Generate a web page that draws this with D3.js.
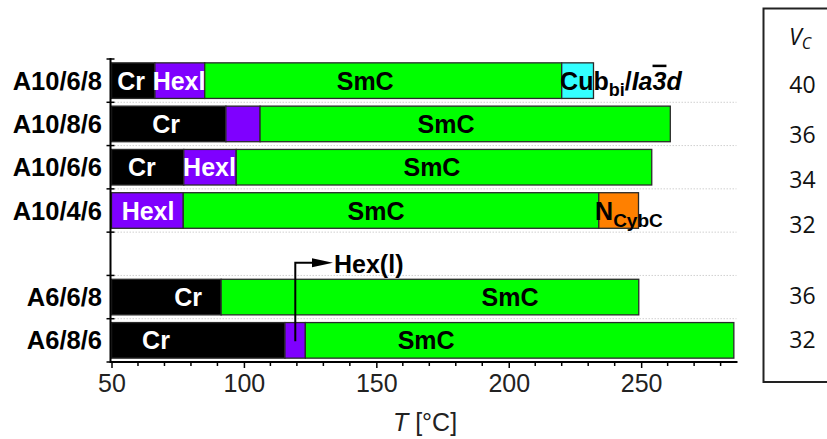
<!DOCTYPE html>
<html>
<head>
<meta charset="utf-8">
<script src="https://cdn.jsdelivr.net/npm/d3@7"></script>
<style>
  html, body { margin: 0; padding: 0; background: #fff; }
  svg { display: block; }
</style>
</head>
<body>
<svg id="chart" width="827" height="439"></svg>
<script>
// ---------------- data ----------------
const categories = ["A10/6/8", "A10/8/6", "A10/6/6", "A10/4/6", "", "A6/6/8", "A6/8/6"];
const phaseSeq = [
  ["Cr", "Hex", "SmC", "Cub"],
  ["Cr", "Hex", "SmC"],
  ["Cr", "Hex", "SmC"],
  ["Hex", "SmC", "N"],
  [],
  ["Cr", "SmC"],
  ["Cr", "Hex", "SmC"]
];
const transitionT = [
  [50, 66.4, 85.2, 220, 232],
  [50, 93.2, 106.1, 261],
  [50, 77.3, 97.1, 254],
  [50, 77.1, 234, 249],
  [],
  [50, 91.4, 249.1],
  [50, 115.5, 123.2, 285]
];
const phaseColors = { Cr: "#000000", Hex: "#7f00ff", SmC: "#00ff00", Cub: "#33ffff", N: "#ff8000" };
// in-bar labels: [row, text, temperature at label centre]
const barLabels = [
  [0, "Cr", 57.4], [0, "Hexl", 75.5], [0, "SmC", 145.8],
  [1, "Cr", 70.6], [1, "SmC", 176.3],
  [2, "Cr", 61.5], [2, "Hexl", 87], [2, "SmC", 171],
  [3, "Hexl", 63.8], [3, "SmC", 149.9],
  [5, "Cr", 78.9], [5, "SmC", 200.5],
  [6, "Cr", 66.8], [6, "SmC", 168.8]
];
const labelColors = { Cr: "#ffffff", Hexl: "#ffffff", SmC: "#000000" };
const cubLabelT = 219.4;   // start of "Cub_bi/Ia-3d"
const nLabelT = 232.6;     // start of "N_CybC"
const hexArrowT = 119.4;   // Hex(l) pointer
const vcValues = ["40", "36", "34", "32", "36", "32"];
const xTicks = [50, 100, 150, 200, 250];
const xMinor = [60, 70, 80, 90, 110, 120, 130, 140, 160, 170, 180, 190, 210, 220, 230, 240, 260, 270, 280];

// ---------------- layout ----------------
const svg = d3.select("#chart");
const x = d3.scaleLinear().domain([50, 286]).range([111.5, 736.5]);
const y = d3.scaleBand().domain(d3.range(categories.length)).range([59, 362]).paddingInner(0.178).paddingOuter(0.089);
const step = y.step();
const bf = "'Liberation Sans', Arial, sans-serif";

// gridlines (dotted)
const gridG = svg.append("g");
d3.range(1, categories.length).forEach(i => {
  const yy = 59 + i * step;
  gridG.append("line").attr("x1", x(50)).attr("x2", x(286)).attr("y1", yy).attr("y2", yy)
    .attr("stroke", "#d0d0d0").attr("stroke-width", 1).attr("stroke-dasharray", "1.5,1.5");
});

// bars
categories.forEach((c, i) => {
  const seq = phaseSeq[i], t = transitionT[i];
  seq.forEach((p, k) => {
    svg.append("rect")
      .attr("x", x(t[k])).attr("y", y(i))
      .attr("width", x(t[k + 1]) - x(t[k])).attr("height", y.bandwidth())
      .attr("fill", phaseColors[p]).attr("stroke", "#2a2a2a").attr("stroke-width", 1.3);
  });
});

// in-bar labels
barLabels.forEach(([r, txt, t]) => {
  svg.append("text").attr("x", x(t)).attr("y", y(r) + y.bandwidth() / 2 + 9)
    .attr("text-anchor", "middle").attr("font-family", bf).attr("font-weight", "bold")
    .attr("font-size", 25).attr("fill", labelColors[txt]).text(txt);
});

// Cub_bi / Ia-3d label
{
  const t = svg.append("text").attr("x", x(cubLabelT)).attr("y", y(0) + y.bandwidth() / 2 + 9)
    .attr("font-family", bf).attr("font-weight", "bold").attr("font-size", 25).attr("fill", "#000");
  t.append("tspan").text("Cub");
  t.append("tspan").attr("font-size", 18).attr("dy", 6).text("bi");
  t.append("tspan").attr("dy", -6).text("/");
  t.append("tspan").attr("font-style", "italic").text("Ia");
  t.append("tspan").attr("font-style", "italic").attr("text-decoration", "overline").text("3");
  t.append("tspan").attr("font-style", "italic").text("d");
}
// N_CybC label
{
  const t = svg.append("text").attr("x", x(nLabelT)).attr("y", y(3) + y.bandwidth() / 2 + 9)
    .attr("font-family", bf).attr("font-weight", "bold").attr("font-size", 25).attr("fill", "#000");
  t.append("tspan").text("N");
  t.append("tspan").attr("font-size", 19).attr("dy", 7).text("CybC");
}

// Hex(l) pointer
{
  const xa = x(hexArrowT);
  const yTop = 262.7, yBot = y(6) + y.bandwidth() / 2 + 1;
  svg.append("path").attr("d", `M${xa},${yBot} V${yTop} H${313}`)
    .attr("fill", "none").attr("stroke", "#000").attr("stroke-width", 2);
  svg.append("path").attr("d", `M312,${yTop - 4.5} L333,${yTop} L312,${yTop + 4.5} Z`).attr("fill", "#000");
  svg.append("text").attr("x", 334).attr("y", 273).attr("font-family", bf).attr("font-weight", "bold")
    .attr("font-size", 25).attr("fill", "#000").text("Hex(l)");
}

// left axis
svg.append("line").attr("x1", 110.5).attr("x2", 110.5).attr("y1", 58).attr("y2", 363)
  .attr("stroke", "#000").attr("stroke-width", 2);
d3.range(categories.length + 1).forEach(i => {
  const yy = 59 + i * step;
  svg.append("line").attr("x1", 106.5).attr("x2", 114.5).attr("y1", yy).attr("y2", yy)
    .attr("stroke", "#000").attr("stroke-width", 1.5);
});
categories.forEach((c, i) => {
  if (!c) return;
  svg.append("text").attr("x", 102).attr("y", y(i) + y.bandwidth() / 2 + 9)
    .attr("text-anchor", "end").attr("font-family", bf).attr("font-weight", "bold")
    .attr("font-size", 25.5).attr("fill", "#000").text(c);
});

// bottom axis
const xAxis = d3.axisBottom(x).tickValues(xTicks).tickSize(6).tickPadding(6).tickSizeOuter(0);
const gx = svg.append("g").attr("transform", "translate(0,362)").call(xAxis);
gx.select(".domain").attr("stroke", "#000").attr("stroke-width", 2).attr("d", `M${x(50) - 1},0H${x(286) + 1}`);
gx.selectAll(".tick line").attr("stroke", "#000").attr("stroke-width", 1.5);
gx.selectAll(".tick text").attr("font-family", bf).attr("font-size", 25).attr("fill", "#222").attr("dy", "0.71em");
svg.append("g").selectAll("line").data(xMinor).join("line")
  .attr("x1", d => x(d)).attr("x2", d => x(d)).attr("y1", 362).attr("y2", 366)
  .attr("stroke", "#000").attr("stroke-width", 1.5);
{
  const t = svg.append("text").attr("x", 425).attr("y", 431).attr("text-anchor", "middle")
    .attr("font-family", bf).attr("font-size", 25).attr("fill", "#222");
  t.append("tspan").attr("font-style", "italic").text("T");
  t.append("tspan").text(" [°C]");
}

// V_C box
const boxRowY = [93, 143, 188, 233, 304, 348];
svg.append("rect").attr("x", 763.5).attr("y", 8.5).attr("width", 80).attr("height", 373.5)
  .attr("fill", "none").attr("stroke", "#222").attr("stroke-width", 2);
{
  const t = svg.append("text").attr("x", 789).attr("y", 45).attr("font-family", "'Open Sans', sans-serif")
    .attr("font-size", 23).attr("fill", "#111").attr("font-style", "italic");
  t.append("tspan").text("V");
  t.append("tspan").attr("font-size", 16).attr("dy", 4).text("C");
}
svg.append("g").selectAll("text").data(vcValues).join("text")
  .attr("x", 802.5).attr("y", (d, i) => boxRowY[i]).attr("text-anchor", "middle")
  .attr("font-family", "'Open Sans', sans-serif").attr("font-size", 23).attr("fill", "#111").text(d => d);
</script>
</body>
</html>
